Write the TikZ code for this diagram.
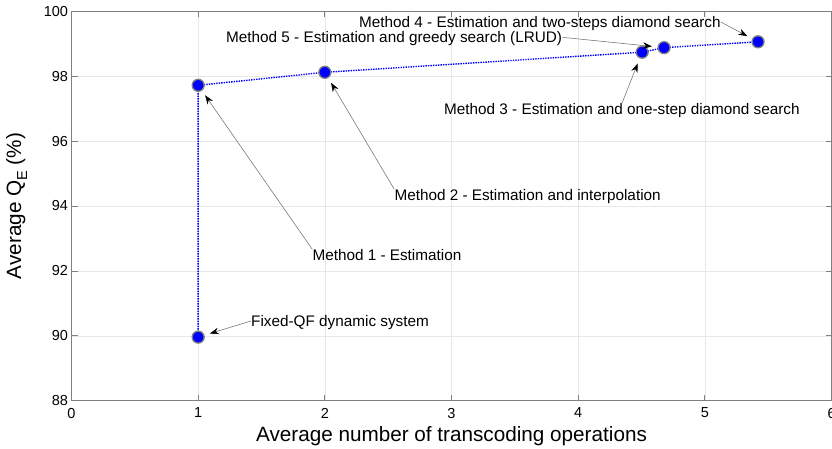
\documentclass[tikz,border=0pt]{standalone}
\usepackage{fontspec}
\setmainfont{Liberation Sans}
\usetikzlibrary{arrows.meta}
\definecolor{gridc}{HTML}{E8E8E8}
\definecolor{axc}{HTML}{808080}
\definecolor{annc}{HTML}{707070}
\newcommand\tickfont{\fontsize{14.5}{16}\selectfont}
\newcommand\labfont{\fontsize{15.3}{18}\selectfont}
\newcommand\axfont{\fontsize{20.7}{24}\selectfont}
\tikzset{
  gridline/.style={draw=gridc, line width=0.6pt},
  axline/.style={draw=axc, line width=0.8pt},
  ticklab/.style={font=\tickfont, inner sep=0pt},
  dataline/.style={draw=blue, line width=1.4pt, dash pattern=on 1.4pt off 1.1pt},
  mk/.style={circle, fill=blue, draw=axc, line width=1.3pt, minimum size=12pt, inner sep=0pt},
  lab/.style={font=\labfont, inner sep=0pt, text height=11pt, text depth=0pt, anchor=west},
  ann/.style={draw=annc, line width=0.55pt, -{Stealth[length=9pt,width=6.5pt,color=black]}, shorten >=5.5pt},
}
\begin{document}
\begin{tikzpicture}[x=1pt,y=-1pt]
\useasboundingbox (0,0) rectangle (832,448);
\begin{scope}[shift={(71.5pt,-400.7pt)}, x=126.67pt, y=32.45pt]
  % grid
  \foreach \i in {1,...,5} \draw[gridline] (\i,0) -- (\i,12);
  \foreach \j in {2,4,...,10} \draw[gridline] (0,\j) -- (6,\j);
  % ticks
  \foreach \i in {1,...,5} {
    \draw[axline] (\i,0) -- ++(0pt,6pt);
    \draw[axline] (\i,12) -- ++(0pt,-6pt);
  }
  \foreach \j in {2,4,...,10} {
    \draw[axline] (0,\j) -- ++(6pt,0pt);
    \draw[axline] (6,\j) -- ++(-6pt,0pt);
  }
  \draw[axline] (0,0) rectangle (6,12);
  % tick labels
  \foreach \i in {0,...,6}
    \node[ticklab, anchor=north] (xt\i) at ([yshift=-7pt]\i,0) {\i};
  \foreach \j/\v in {0/88,2/90,4/92,6/94,8/96,10/98,12/100}
    \node[ticklab, anchor=east] (yt\v) at ([xshift=-3.3pt]0,\j) {\v};
  % data
  \coordinate (c0) at (1,1.96);
  \coordinate (c1) at (1,9.72);
  \coordinate (c2) at (2,10.12);
  \coordinate (c3) at (4.505,10.74);
  \coordinate (c5) at (4.678,10.88);
  \coordinate (c4) at (5.42,11.06);
  \draw[dataline] (c0) -- (c1) -- (c2) -- (c3) -- (c5) -- (c4);
  \foreach \k in {0,1,2,3,4,5} \node[mk] (p\k) at (c\k) {};
\end{scope}
% axis labels
\node[font=\axfont, inner sep=0pt, anchor=base] (xl) at (451.5,441.7) {Average number of transcoding operations};
\node[font=\axfont, inner sep=0pt, anchor=base, rotate=90] (yl) at (21,206)
  {Average Q\raisebox{-0.3em}{\fontsize{14.5}{15}\selectfont E} (\%)};
% annotations
\node[lab] (m4) at (359,22) {Method 4 - Estimation and two-steps diamond search};
\node[lab] (m5) at (226,37.3) {Method 5 - Estimation and greedy search (LRUD)};
\node[lab] (m3) at (444,109) {Method 3 - Estimation and one-step diamond search};
\node[lab] (m2) at (394.3,195) {Method 2 - Estimation and interpolation};
\node[lab] (m1) at (312.3,255) {Method 1 - Estimation};
\node[lab] (m0) at (251,321) {Fixed-QF dynamic system};
\draw[ann] (m4.east) -- (p4);
\draw[ann] (m5.east) -- (p5);
\draw[ann] (m3.north) -- (p3);
\draw[ann] (m2.north west) -- (p2);
\draw[ann] (m1.north west) -- (p1);
\draw[ann] (m0.west) -- (p0);
\end{tikzpicture}
\end{document}
